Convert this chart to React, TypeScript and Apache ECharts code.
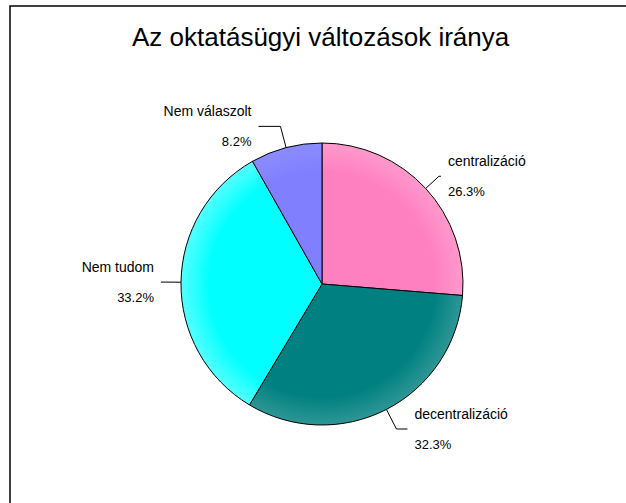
import React, { useEffect, useRef } from 'react';
import * as echarts from 'echarts';

const titleText = 'Az oktatásügyi változások iránya';
const categories = ['centralizáció', 'decentralizáció', 'Nem tudom', 'Nem válaszolt'];
const shares = [26.3, 32.3, 33.2, 8.2];
const baseColors = ['#FF80C0', '#008080', '#00FFFF', '#8080FF'];
const edgeColors = ['#FF99CC', '#2E9696', '#55FFFF', '#8C8CFF'];
const leaderLengths = [
  [18, 2],
  [22, 11],
  [10, 10],
  [22, 22],
];

const CX = 322;
const CY = 284;
const R = 141;

export default function App() {
  const ref = useRef<HTMLDivElement>(null);

  useEffect(() => {
    if (!ref.current) return;
    const chart = echarts.init(ref.current, undefined, { renderer: 'svg' });

    const data = categories.map((name, i) => ({
      name,
      value: shares[i],
      itemStyle: {
        color: {
          type: 'radial',
          x: CX,
          y: CY,
          r: R,
          global: true,
          colorStops: [
            { offset: 0, color: baseColors[i] },
            { offset: 0.8, color: baseColors[i] },
            { offset: 1, color: edgeColors[i] },
          ],
        },
      },
      labelLine: { length: leaderLengths[i][0], length2: leaderLengths[i][1] },
    }));

    chart.setOption({
      animation: false,
      backgroundColor: '#ffffff',
      title: {
        text: titleText,
        left: 132,
        top: 24,
        padding: 0,
        textStyle: {
          fontFamily: 'Liberation Sans, Arial, sans-serif',
          fontSize: 26,
          fontWeight: 'normal',
          color: '#000',
        },
      },
      graphic: [
        {
          type: 'rect',
          shape: { x: 10, y: 6, width: 700, height: 600 },
          style: { fill: 'none', stroke: '#000', lineWidth: 1.5 },
          silent: true,
        },
      ],
      series: [
        {
          type: 'pie',
          center: [CX, CY],
          radius: R,
          startAngle: 90,
          clockwise: true,
          avoidLabelOverlap: false,
          data,
          itemStyle: { borderColor: '#000', borderWidth: 1 },
          label: {
            show: true,
            position: 'outside',
            distanceToLabelLine: 7,
            fontFamily: 'Liberation Sans, Arial, sans-serif',
            color: '#000',
            formatter: (p: any) => `{n|${p.name}}\n{g|}\n{p|${Number(p.value).toFixed(1)}%}`,
            rich: {
              n: { fontSize: 14, lineHeight: 16, fontFamily: 'Liberation Sans, Arial, sans-serif', color: '#000' },
              g: { fontSize: 13, lineHeight: 15 },
              p: { fontSize: 13, lineHeight: 16, fontFamily: 'Liberation Sans, Arial, sans-serif', color: '#000' },
            },
          },
          labelLine: {
            show: true,
            lineStyle: { color: '#000', width: 1 },
          },
          emphasis: { disabled: true },
        },
      ],
    });

    return () => chart.dispose();
  }, []);

  return (
    <div
      ref={ref}
      style={{ position: 'absolute', left: 0, top: 0, width: 626, height: 503, background: '#fff' }}
    />
  );
}
